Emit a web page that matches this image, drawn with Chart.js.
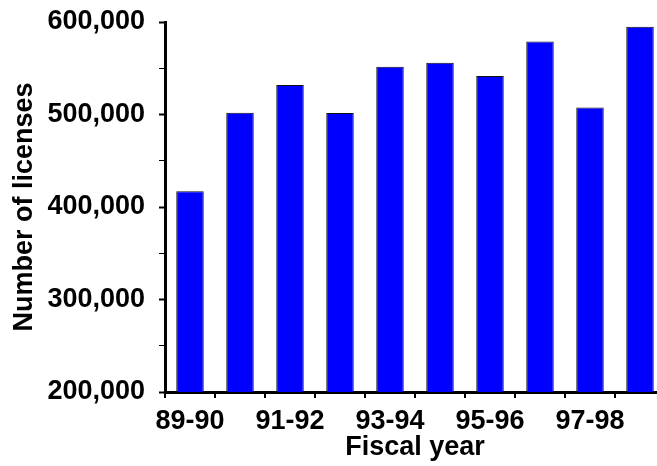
<!DOCTYPE html>
<html>
<head>
<meta charset="utf-8">
<script src="https://cdn.jsdelivr.net/npm/chart.js@4/dist/chart.umd.min.js"></script>
<style>
    html, body { margin: 0; padding: 0; background: #fff; overflow: hidden; }
    #wrap { width: 657px; height: 466px; overflow: hidden; }
    canvas { display: block; }
</style>
</head>
<body>
<div id="wrap"><canvas id="licChart" width="680" height="466"></canvas></div>
<script>
// data
const fiscalYears = ['89-90', '90-91', '91-92', '92-93', '93-94', '94-95', '95-96', '96-97', '97-98', '98-99'];
const licenses = [417000, 502000, 532000, 501500, 551500, 556000, 541500, 579000, 507500, 595000];

const yMin = 200000;
const yMax = 600000;
const yStep = 50000;     // minor ticks every 50k, labels every 100k
const yLabelStep = 100000;

const FONT = "'Liberation Sans', Arial, sans-serif";

function withCommas(n) {
    return String(n).replace(/\B(?=(\d{3})+(?!\d))/g, ',');
}

const ctx = document.getElementById('licChart').getContext('2d');

new Chart(ctx, {
    type: 'bar',
    data: {
        labels: fiscalYears,
        datasets: [{
            label: 'Number of licenses',
            data: licenses,
            backgroundColor: '#0000ff',
            borderColor: '#111',
            borderWidth: 1,
            categoryPercentage: 1,
            barPercentage: 0.55
        }]
    },
    options: {
        responsive: false,
        devicePixelRatio: 1,
        animation: false,
        layout: { padding: { top: 22, right: 15, left: 0, bottom: 0 } },
        plugins: {
            legend: { display: false },
            tooltip: { enabled: false }
        },
        scales: {
            x: {
                border: { display: true, width: 3, color: '#000' },
                grid: {
                    display: true,
                    offset: true,
                    drawOnChartArea: false,
                    drawTicks: true,
                    tickLength: 6,
                    color: '#000',
                    lineWidth: 2
                },
                ticks: {
                    autoSkip: false,
                    maxRotation: 0,
                    padding: 7,
                    color: '#000',
                    font: { family: FONT, size: 27, weight: 'bold' },
                    callback: function (value, index) {
                        return index % 2 === 0 ? this.getLabelForValue(value) : '';
                    }
                },
                title: {
                    display: true,
                    text: 'Fiscal year',
                    color: '#000',
                    padding: { top: 0, bottom: 2 },
                    font: { family: FONT, size: 27, weight: 'bold' }
                },
                afterFit: scale => { scale.height = 466 - 392; }
            },
            y: {
                min: yMin,
                max: yMax,
                border: { display: true, width: 3, color: '#000' },
                grid: {
                    display: true,
                    drawOnChartArea: false,
                    drawTicks: true,
                    tickLength: 6,
                    color: '#000',
                    tickWidth: c => (c.tick && c.tick.value % yLabelStep === 0 ? 2 : 1)
                },
                ticks: {
                    stepSize: yStep,
                    padding: 14,
                    color: '#000',
                    font: { family: FONT, size: 27, weight: 'bold' },
                    callback: value => (value % yLabelStep === 0 ? withCommas(value) : '')
                },
                title: {
                    display: true,
                    text: 'Number of licenses',
                    color: '#000',
                    padding: { top: 8, bottom: 0 },
                    font: { family: FONT, size: 27, weight: 'bold' }
                },
                afterFit: scale => {
                    scale.width = 165;
                    scale.paddingTop = 0;
                    scale.paddingBottom = 0;
                }
            }
        }
    }
});
</script>
</body>
</html>
